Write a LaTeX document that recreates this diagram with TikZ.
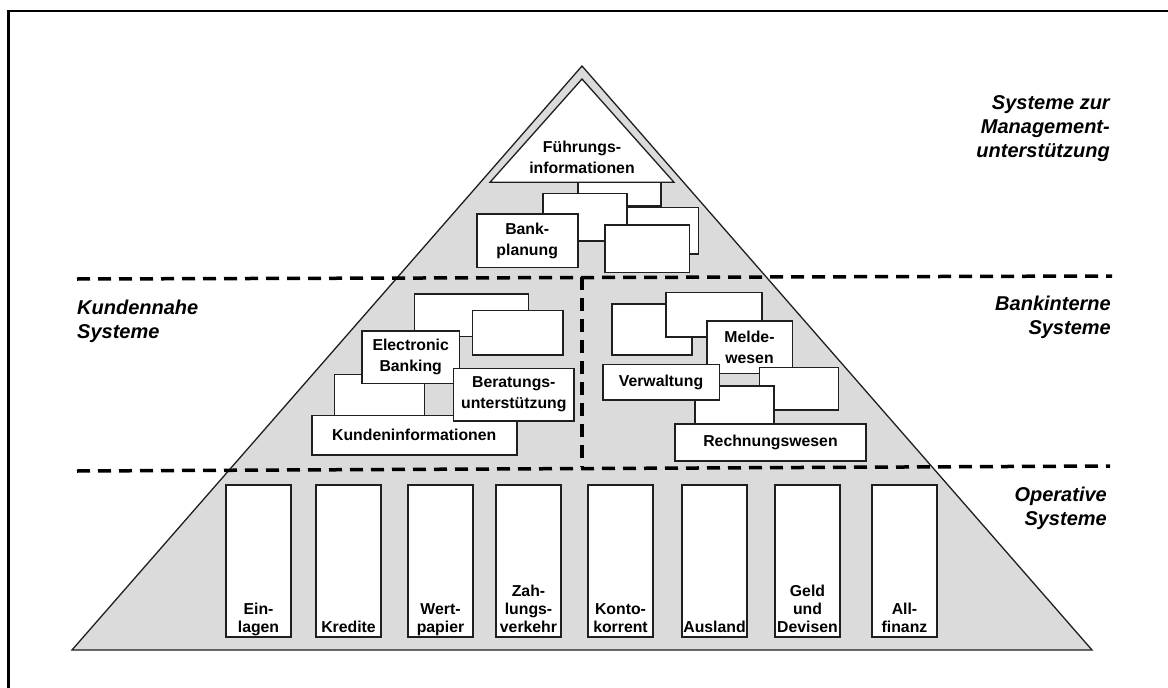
\documentclass[tikz,border=0pt]{standalone}
\usepackage{fontspec}
\setmainfont{Liberation Sans}
\definecolor{pyrgray}{gray}{0.86}
\definecolor{linegray}{gray}{0.12}

\begin{document}
\begin{tikzpicture}[x=1pt,y=-1pt,
  box/.style={draw=linegray,fill=white,line width=1.6pt,inner sep=0pt,align=center,
    font=\fontsize{15.8}{21}\selectfont\bfseries},
  colbox/.style={draw=linegray,fill=white,line width=1.6pt,inner sep=0pt,
    minimum width=65pt,minimum height=152pt},
  coltext/.style={anchor=south,inner sep=0pt,text depth=4pt,align=center,
    font=\fontsize{15.8}{18}\selectfont\bfseries},
  layer/.style={inner sep=0pt,font=\fontsize{20}{24}\selectfont\bfseries\itshape},
  divider/.style={line width=3.5pt,dash pattern=on 13pt off 8pt}]
\useasboundingbox (0,0) rectangle (1168,688);
% frame
\draw[line width=2.5pt] (8.5,688) -- (8.5,11) -- (1168,11);
% pyramid
\coordinate (apex) at (582,66);
\coordinate (baseL) at (72,650);
\coordinate (baseR) at (1092,650);
\draw[fill=pyrgray,line width=1.3pt,draw=linegray] (apex) -- (baseL) -- (baseR) -- cycle;

% management systems
\node[box,minimum width=83pt,minimum height=27.7pt] (mgmtA) at (619.5,191.85) {};
\draw[fill=white,line width=1.3pt,draw=linegray] (582,79) -- (490,182.3) -- (674,182.3) -- cycle;
\node[inner sep=0pt,align=center,font=\fontsize{15.8}{21}\selectfont\bfseries] (fuehrung) at (582,157) {Führungs-\\informationen};
\node[box,minimum width=84pt,minimum height=47.4pt] (mgmtB) at (584.7,217) {};
\node[box,minimum width=71.6pt,minimum height=46.7pt] (mgmtC) at (662.5,230.7) {};
\node[box,minimum width=101pt,minimum height=53.3pt] (bankplan) at (527.2,240.7) {Bank-\\planung};
\node[box,minimum width=84.3pt,minimum height=47.3pt] (mgmtE) at (647.2,248.7) {};

% customer systems
\node[box,minimum width=114pt,minimum height=42.7pt] (kundeA) at (471.3,315.3) {};
\node[box,minimum width=90.4pt,minimum height=44.3pt] (kundeB) at (517.5,332.8) {};
\node[box,minimum width=90pt,minimum height=50.7pt] (kundeC) at (379.3,399.7) {};
\node[box,minimum width=97.3pt,minimum height=52.6pt] (ebank) at (410.7,357) {Electronic\\Banking};
\node[box,minimum width=205pt,minimum height=39.3pt] (kundinfo) at (414.2,435.3) {Kundeninformationen};
\node[box,minimum width=120.3pt,minimum height=52.7pt] (beratung) at (513.8,394.7) {Beratungs-\\unterstützung};

% bank internal systems
\node[box,minimum width=80pt,minimum height=51pt] (internA) at (651.7,329.5) {};
\node[box,minimum width=96pt,minimum height=44.4pt] (internB) at (713.7,314.5) {};
\node[box,minimum width=85.6pt,minimum height=52.3pt] (melde) at (749.5,347.2) {Melde-\\wesen};
\node[box,minimum width=79pt,minimum height=42.3pt] (internC) at (798.8,388.8) {};
\node[box,minimum width=79pt,minimum height=44pt] (internD) at (734.5,408) {};
\node[box,minimum width=116.6pt,minimum height=35.7pt] (verwalt) at (661,382.2) {Verwaltung};
\node[box,minimum width=191pt,minimum height=37pt] (rechnung) at (770.5,442.5) {Rechnungswesen};

% operative systems
\node[colbox] (einlagen) at (258.5,561) {};
\node[colbox] (kredite) at (348.5,561) {};
\node[colbox] (wertpap) at (440.5,561) {};
\node[colbox] (zahlung) at (528.5,561) {};
\node[colbox] (konto) at (620.5,561) {};
\node[colbox] (ausland) at (714.5,561) {};
\node[colbox] (geld) at (807.5,561) {};
\node[colbox] (allfin) at (904.5,561) {};
\node[coltext] (einlagenT) at ([yshift=1pt]einlagen.south) {Ein-\\lagen};
\node[coltext] (krediteT) at ([yshift=1pt]kredite.south) {Kredite};
\node[coltext] (wertpapT) at ([yshift=1pt]wertpap.south) {Wert-\\papier};
\node[coltext] (zahlungT) at ([yshift=1pt]zahlung.south) {Zah-\\lungs-\\verkehr};
\node[coltext] (kontoT) at ([yshift=1pt]konto.south) {Konto-\\korrent};
\node[coltext] (auslandT) at ([yshift=1pt]ausland.south) {Ausland};
\node[coltext] (geldT) at ([yshift=1pt]geld.south) {Geld\\und\\Devisen};
\node[coltext] (allfinT) at ([yshift=1pt]allfin.south) {All-\\finanz};

% dividers
\coordinate (divUL) at (77,279);
\coordinate (divUR) at (1112,276);
\coordinate (divLL) at (77,471);
\coordinate (divLR) at (1110,466);
\coordinate (divMT) at (582,277);
\coordinate (divMB) at (582,467);
\draw[divider] (divUL) -- (divUR);
\draw[divider] (divLL) -- (divLR);
\draw[divider] (divMT) -- (divMB);

% layer labels
\node[layer,anchor=north east,align=right] (mgmtlbl) at (1110,95) {Systeme zur\\Management-\\unterstützung};
\node[layer,anchor=north west,align=left] (kundelbl) at (77,300) {Kundennahe\\Systeme};
\node[layer,anchor=north east,align=right] (internlbl) at (1111,295.5) {Bankinterne\\Systeme};
\node[layer,anchor=north east,align=right] (operlbl) at (1107,487) {Operative\\Systeme};
\end{tikzpicture}
\end{document}
